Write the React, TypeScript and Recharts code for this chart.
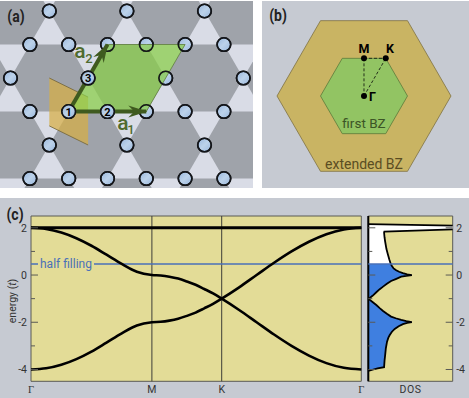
import type { CSSProperties, ReactNode } from "react";
import {
  Area,
  ComposedChart,
  Line,
  ReferenceArea,
  ReferenceLine,
  Scatter,
  XAxis,
  YAxis,
} from "recharts";

// (a) kagome lattice, columns are half lattice spacings, rows are atom rows
const latticeSites: [number, number][] = [
  [2, 0], [6, 0], [10, 0],
  [1, 1], [3, 1], [5, 1], [7, 1], [9, 1], [11, 1],
  [0, 2], [4, 2], [8, 2], [12, 2],
  [1, 3], [3, 3], [5, 3], [7, 3], [9, 3], [11, 3],
  [2, 4], [6, 4], [10, 4],
  [1, 5], [3, 5], [5, 5], [7, 5], [9, 5], [11, 5],
];
const numberedSites: [number, number, string][] = [
  [3, 3, "1"],
  [5, 3, "2"],
  [4, 2, "3"],
];
const upTriangleApexes: [number, number][] = [
  [2, 0], [6, 0], [10, 0],
  [0, 2], [4, 2], [8, 2], [12, 2],
  [2, 4], [6, 4], [10, 4],
];
const downTriangleApexes: [number, number][] = [
  [2, 0], [6, 0], [10, 0],
  [0, 2], [4, 2], [8, 2], [12, 2],
  [2, 4], [6, 4], [10, 4],
  [0, 6], [4, 6], [8, 6], [12, 6],
];
const unitCell = [
  { x: 3, span: [3, 3] },
  { x: 5, span: [1, 3] },
  { x: 7, span: [1, 3] },
  { x: 9, span: [1, 1] },
];
const wignerCell = [
  { x: 2, span: [2, 3.43] },
  { x: 4, span: [2.57, 4] },
];
const a1Vector = [{ x: 3, y: 3 }, { x: 7, y: 3 }];
const a2Vector = [{ x: 3, y: 3 }, { x: 5, y: 1 }];

// (b) Brillouin zones
const extendedBZ = [
  { x: -2, span: [0, 0] },
  { x: -1, span: [-1.732, 1.732] },
  { x: 1, span: [-1.732, 1.732] },
  { x: 2, span: [0, 0] },
];
const firstBZ = [
  { x: -1, span: [0, 0] },
  { x: -0.5, span: [-0.866, 0.866] },
  { x: 0.5, span: [-0.866, 0.866] },
  { x: 1, span: [0, 0] },
];
const kPathMGamma = [{ x: 0, y: 0.866 }, { x: 0, y: 0 }];
const kPathGammaK = [{ x: 0, y: 0 }, { x: 0.5, y: 0.866 }];
const kPathMK = [{ x: 0, y: 0.866 }, { x: 0.5, y: 0.866 }];
const kPoints = [
  { x: 0, y: 0 },
  { x: 0, y: 0.866 },
  { x: 0.5, y: 0.866 },
];

// (c) band structure along the path
const pathPositions = [0, 0.866, 1.366, 2.366];
const pathLabels = ["Γ", "M", "K", "Γ"];
const energyTicks = [2, 1, 0, -1, -2, -3, -4];
const halfFilling = 0.47;

const bandX = [
  0, 0.108, 0.217, 0.325, 0.433, 0.541, 0.65, 0.758, 0.866,
  0.929, 0.991, 1.054, 1.116, 1.179, 1.241, 1.304, 1.366,
  1.491, 1.616, 1.741, 1.866, 1.991, 2.116, 2.241, 2.366,
];
// the two dispersive bands cross at K
const bandFromTop = [
  2, 1.95, 1.8, 1.56, 1.24, 0.86, 0.47, 0.14, 0,
  -0.02, -0.07, -0.15, -0.27, -0.41, -0.59, -0.78, -1,
  -1.48, -2, -2.52, -3, -3.41, -3.73, -3.93, -4,
];
const bandFromBottom = [
  -4, -3.95, -3.8, -3.56, -3.24, -2.86, -2.47, -2.14, -2,
  -1.98, -1.93, -1.85, -1.73, -1.59, -1.41, -1.22, -1,
  -0.52, 0, 0.52, 1, 1.41, 1.73, 1.93, 2,
];
const flatBand = bandX.map(() => 2);
const bandData = bandX.map((x, i) => ({
  x,
  upper: bandFromTop[i],
  lower: bandFromBottom[i],
  flat: flatBand[i],
}));

// density of states, filled part and empty part
const filledEnergy = [
  -4.06, -4, -3.95, -3.9, -3.6, -3.38, -3.1, -2.82, -2.65, -2.54, -2.4,
  -2.28, -2.17, -2.08, -2.03, -1.99, -1.95, -1.9, -1.83, -1.76, -1.64,
  -1.52, -1.4, -1.27, -1.14, -1.01, -0.88, -0.73, -0.6, -0.49, -0.37,
  -0.25, -0.17, -0.07, -0.04, 0, 0.03, 0.085, 0.14, 0.2, 0.28, 0.38, 0.47,
];
const filledDos = [
  0, 0.06, 0.11, 0.187, 0.193, 0.2, 0.208, 0.222, 0.238, 0.254, 0.28,
  0.313, 0.36, 0.41, 0.46, 0.516, 0.45, 0.39, 0.325, 0.27, 0.22,
  0.175, 0.135, 0.095, 0.05, 0.004, 0.05, 0.095, 0.135, 0.175, 0.22,
  0.27, 0.325, 0.39, 0.45, 0.516, 0.46, 0.41, 0.365, 0.33, 0.3, 0.28, 0.266,
];
const emptyEnergy = [0.47, 0.65, 0.85, 1.1, 1.41, 1.6, 1.8, 1.84, 1.945, 2.085, 2.16];
const emptyDos = [0.266, 0.25, 0.234, 0.215, 0.2, 0.192, 0.187, 0.19, 1.1, 1.1, 0];
const filledData = filledEnergy.map((e, i) => ({ e, dos: filledDos[i] }));
const emptyData = emptyEnergy.map((e, i) => ({ e, dos: emptyDos[i] }));

const PANEL = "#c6cad2";
const DARK_TILE = "#9fa3aa";
const LIGHT_TILE = "#d9dce6";
const PLOT_BG = "#e3dc97";
const FRAME = "#5a5a55";
const BLUE = "#4a71b8";
const ARROW = "#3f5a1f";
const FONT = "Roboto, sans-serif";

function upTriangle([c, r]: [number, number]) {
  return [
    { x: c - 1, span: [r + 1, r + 1] },
    { x: c, span: [r, r + 1] },
    { x: c + 1, span: [r + 1, r + 1] },
  ];
}

function downTriangle([c, r]: [number, number]) {
  return [
    { x: c - 1, span: [r - 1, r - 1] },
    { x: c, span: [r - 1, r] },
    { x: c + 1, span: [r - 1, r - 1] },
  ];
}

function Note({
  x,
  y,
  size = 11,
  color = "#222",
  weight = 400,
  squeeze = 1,
  style,
  children,
}: {
  x: number;
  y: number;
  size?: number;
  color?: string;
  weight?: number;
  squeeze?: number;
  style?: CSSProperties;
  children: ReactNode;
}) {
  return (
    <span
      style={{
        position: "absolute",
        left: x,
        top: y,
        transform: `translate(-50%, -50%) scaleX(${squeeze})`,
        fontFamily: FONT,
        fontSize: size,
        fontWeight: weight,
        color,
        lineHeight: 1,
        whiteSpace: "nowrap",
        ...style,
      }}
    >
      {children}
    </span>
  );
}

function Atom(props: any) {
  return (
    <circle
      cx={props.cx}
      cy={props.cy}
      r={6.8}
      fill="url(#atomFill)"
      stroke="#14161a"
      strokeWidth={1.6}
    />
  );
}

function AtomOutline(props: any) {
  return (
    <circle
      cx={props.cx}
      cy={props.cy}
      r={6.8}
      fill="none"
      stroke="#14161a"
      strokeWidth={1.6}
    />
  );
}

function ArrowHead({ angle, ...props }: any) {
  if (props.index !== 1) return <g key={props.index} />;
  return (
    <polygon
      key={props.index}
      points="1,0 -18,-6 -12,0 -18,6"
      fill={ARROW}
      transform={`translate(${props.cx} ${props.cy}) rotate(${angle})`}
    />
  );
}

// the three lattice layers share these hidden axes
function LatticeLayer({ children }: { children: ReactNode }) {
  return (
    <div style={{ position: "absolute", left: 0, top: 0 }}>
      <ComposedChart
        width={253}
        height={187}
        margin={{ top: 0, right: 0, bottom: 0, left: 0 }}
      >
        <XAxis
          dataKey="x"
          type="number"
          domain={[-0.541, 12.5]}
          allowDataOverflow
          hide
        />
        <YAxis
          dataKey="y"
          type="number"
          domain={[-0.2985, 5.283]}
          reversed
          allowDataOverflow
          hide
        />
        {children}
      </ComposedChart>
    </div>
  );
}

function LatticePanel() {
  const sites = latticeSites.map(([x, y]) => ({ x, y }));
  const numbered = numberedSites.map(([x, y]) => ({ x, y }));
  return (
    <>
      <svg width={0} height={0} style={{ position: "absolute" }}>
        <defs>
          <linearGradient id="atomFill" x1="0" y1="0" x2="1" y2="1">
            <stop offset="0%" stopColor="#98b6dc" />
            <stop offset="50%" stopColor="#bcd2ea" />
            <stop offset="100%" stopColor="#98b6dc" />
          </linearGradient>
        </defs>
      </svg>
      <LatticeLayer>
        {upTriangleApexes.map((apex) => (
          <Area
            key={`up-${apex}`}
            data={upTriangle(apex)}
            dataKey="span"
            type="linear"
            fill={LIGHT_TILE}
            fillOpacity={1}
            stroke="none"
            isAnimationActive={false}
          />
        ))}
        {downTriangleApexes.map((apex) => (
          <Area
            key={`down-${apex}`}
            data={downTriangle(apex)}
            dataKey="span"
            type="linear"
            fill={LIGHT_TILE}
            fillOpacity={1}
            stroke="none"
            isAnimationActive={false}
          />
        ))}
        <Scatter data={sites} shape={<Atom />} isAnimationActive={false} />
      </LatticeLayer>
      <LatticeLayer>
        <Area
          data={wignerCell}
          dataKey="span"
          type="linear"
          fill="#d7ae45"
          fillOpacity={0.72}
          stroke="#6f6238"
          strokeWidth={0.8}
          isAnimationActive={false}
        />
        <Area
          data={unitCell}
          dataKey="span"
          type="linear"
          fill="#89ce49"
          fillOpacity={0.73}
          stroke="#5c7a3a"
          strokeWidth={0.8}
          isAnimationActive={false}
        />
      </LatticeLayer>
      <LatticeLayer>
        <Scatter data={sites} shape={<AtomOutline />} isAnimationActive={false} />
      </LatticeLayer>
      <LatticeLayer>
        <Line
          data={a1Vector}
          dataKey="y"
          stroke={ARROW}
          strokeWidth={4}
          dot={<ArrowHead angle={0} />}
          isAnimationActive={false}
        />
        <Line
          data={a2Vector}
          dataKey="y"
          stroke={ARROW}
          strokeWidth={4}
          dot={<ArrowHead angle={-60} />}
          isAnimationActive={false}
        />
        <Scatter data={numbered} shape={<Atom />} isAnimationActive={false} />
      </LatticeLayer>
    </>
  );
}

function ZonePanel() {
  return (
    <ComposedChart
      width={207}
      height={187}
      margin={{ top: 0, right: 0, bottom: 0, left: 0 }}
    >
      <XAxis dataKey="x" type="number" domain={[-2.345, 2.414]} hide />
      <YAxis dataKey="y" type="number" domain={[-2.115, 2.184]} hide />
      <Area
        data={extendedBZ}
        dataKey="span"
        type="linear"
        fill="#c9b463"
        fillOpacity={1}
        stroke="#7f7140"
        strokeWidth={0.8}
        isAnimationActive={false}
      />
      <Area
        data={firstBZ}
        dataKey="span"
        type="linear"
        fill="#92c463"
        fillOpacity={1}
        stroke="#5c7a3a"
        strokeWidth={0.8}
        isAnimationActive={false}
      />
      {[kPathMGamma, kPathGammaK, kPathMK].map((segment, i) => (
        <Line
          key={i}
          data={segment}
          dataKey="y"
          stroke="#23301a"
          strokeWidth={1}
          strokeDasharray="3 2"
          dot={false}
          isAnimationActive={false}
        />
      ))}
      <Scatter
        data={kPoints}
        shape={(p: any) => <circle cx={p.cx} cy={p.cy} r={3} fill="#000" />}
        isAnimationActive={false}
      />
    </ComposedChart>
  );
}

function energyTick(side: "inLeft" | "inRight", label: "left" | "right" | null) {
  return (props: any) => {
    const { x, y, payload } = props;
    const major = payload.value % 2 === 0;
    const len = major ? 7 : 4;
    const dir = side === "inLeft" ? 1 : -1;
    return (
      <g>
        <line x1={x} x2={x + dir * len} y1={y} y2={y} stroke={FRAME} strokeWidth={1} />
        {label && major && (
          <text
            x={label === "left" ? x - 4 : x + 3.5}
            y={y + 4}
            fontFamily={FONT}
            fontSize={10.5}
            fill="#333"
            textAnchor={label === "left" ? "end" : "start"}
          >
            {payload.value}
          </text>
        )}
      </g>
    );
  };
}

function PathTick(props: any) {
  const { x, y, payload } = props;
  const label = pathLabels[pathPositions.indexOf(payload.value)];
  return (
    <text
      x={x}
      y={y + 11.5}
      fontFamily={label === "Γ" ? "Liberation Serif, serif" : FONT}
      fontSize={10.5}
      fill="#333"
      textAnchor="middle"
    >
      {label}
    </text>
  );
}

function BandChart() {
  return (
    <ComposedChart
      width={365}
      height={200}
      data={bandData}
      margin={{ top: 18, right: 3.7, bottom: 0, left: 0 }}
    >
      <XAxis
        dataKey="x"
        type="number"
        domain={[0, 2.366]}
        ticks={pathPositions}
        interval={0}
        height={16.7}
        axisLine={false}
        tickLine={false}
        tickSize={0}
        tickMargin={0}
        tick={<PathTick />}
      />
      <YAxis
        yAxisId="left"
        type="number"
        domain={[-4.5, 2.5]}
        ticks={energyTicks}
        interval={0}
        width={31}
        axisLine={false}
        tickLine={false}
        tickSize={0}
        tickMargin={0}
        tick={energyTick("inLeft", "left")}
      />
      <YAxis
        yAxisId="right"
        orientation="right"
        type="number"
        domain={[-4.5, 2.5]}
        ticks={energyTicks}
        interval={0}
        width={0}
        axisLine={false}
        tickLine={false}
        tickSize={0}
        tickMargin={0}
        tick={energyTick("inRight", null)}
      />
      <ReferenceArea
        yAxisId="left"
        x1={0}
        x2={2.366}
        y1={-4.5}
        y2={2.5}
        fill={PLOT_BG}
        fillOpacity={1}
        stroke={FRAME}
        strokeWidth={1}
      />
      {pathPositions.slice(1, 3).map((x) => (
        <ReferenceLine key={x} yAxisId="left" x={x} stroke="#3e3e38" strokeWidth={1} />
      ))}
      <ReferenceLine yAxisId="left" y={halfFilling} stroke={BLUE} strokeWidth={1.5} />
      <Line yAxisId="right" dataKey="flat" type="linear" stroke="#000" strokeWidth={3} dot={false} isAnimationActive={false} />
      <Line yAxisId="left" dataKey="upper" type="monotone" stroke="#000" strokeWidth={2.6} dot={false} isAnimationActive={false} />
      <Line yAxisId="left" dataKey="lower" type="monotone" stroke="#000" strokeWidth={2.6} dot={false} isAnimationActive={false} />
    </ComposedChart>
  );
}

function DosChart() {
  return (
    <ComposedChart
      width={109}
      height={200}
      layout="vertical"
      margin={{ top: 18, right: 0, bottom: 0, left: 0 }}
    >
      <XAxis
        type="number"
        dataKey="dos"
        domain={[0, 1]}
        allowDataOverflow
        ticks={[0.5]}
        height={16.7}
        axisLine={false}
        tickLine={false}
        tickSize={0}
        tickMargin={0}
        tick={(p: any) => (
          <text x={p.x} y={p.y + 11.5} fontFamily={FONT} fontSize={10.5} letterSpacing={0.5} fill="#333" textAnchor="middle">
            DOS
          </text>
        )}
      />
      <YAxis
        yAxisId="left"
        dataKey="e"
        type="number"
        domain={[-4.5, 2.5]}
        reversed
        ticks={energyTicks}
        interval={0}
        width={8.3}
        axisLine={false}
        tickLine={false}
        tickSize={0}
        tickMargin={0}
        tick={energyTick("inLeft", null)}
      />
      <YAxis
        yAxisId="right"
        dataKey="e"
        orientation="right"
        type="number"
        domain={[-4.5, 2.5]}
        reversed
        ticks={energyTicks}
        interval={0}
        width={16.3}
        axisLine={false}
        tickLine={false}
        tickSize={0}
        tickMargin={0}
        tick={energyTick("inRight", "right")}
      />
      <ReferenceArea
        yAxisId="left"
        x1={0}
        x2={1}
        y1={-4.5}
        y2={2.5}
        fill={PLOT_BG}
        fillOpacity={1}
        stroke={FRAME}
        strokeWidth={1}
      />
      <Area
        yAxisId="left"
        data={filledData}
        dataKey="dos"
        type="linear"
        fill="#3f7fe0"
        fillOpacity={1}
        stroke="#000"
        strokeWidth={1.8}
        isAnimationActive={false}
      />
      <Area
        yAxisId="right"
        data={emptyData}
        dataKey="dos"
        type="linear"
        fill="#fff"
        fillOpacity={1}
        stroke="#000"
        strokeWidth={1.8}
        isAnimationActive={false}
      />
      <ReferenceLine yAxisId="left" x={0} stroke="#000" strokeWidth={2} />
      <ReferenceLine yAxisId="left" y={halfFilling} stroke={BLUE} strokeWidth={1.5} />
    </ComposedChart>
  );
}

export default function App() {
  const box = (left: number, top: number, width: number, height: number, background: string): CSSProperties => ({
    position: "absolute",
    left,
    top,
    width,
    height,
    background,
  });
  return (
    <div style={{ position: "absolute", left: 0, top: 0, width: 469, height: 398, background: "#fff", overflow: "hidden" }}>
      <div style={box(0, 1, 253, 187, DARK_TILE)}>
        <LatticePanel />
      </div>
      <div style={box(262, 1, 207, 187, PANEL)}>
        <ZonePanel />
      </div>
      <div style={box(0, 198, 469, 200, PANEL)}>
        <div style={{ position: "absolute", left: 0, top: 0 }}>
          <BandChart />
        </div>
        <div style={{ position: "absolute", left: 360, top: 0 }}>
          <DosChart />
        </div>
      </div>

      <Note x={15.5} y={17} size={16.5} weight={700} squeeze={0.85}>(a)</Note>
      {numberedSites.map(([c, r, label]) => (
        <Note key={label} x={10.5 + 19.4 * c} y={11 + 33.5 * r} size={11} weight={700} color="#000">
          {label}
        </Note>
      ))}
      <Note x={80} y={51} size={21} weight={500} color="#4f6b2f">a</Note>
      <Note x={89} y={58} size={13} weight={500} color="#4f6b2f">2</Note>
      <Note x={123} y={123} size={21} weight={500} color="#4f6b2f">a</Note>
      <Note x={131} y={129} size={13} weight={500} color="#4f6b2f">1</Note>

      <Note x={278} y={16} size={16.5} weight={700} squeeze={0.85}>(b)</Note>
      <Note x={364} y={49} size={12.5} weight={700} color="#000">M</Note>
      <Note x={390} y={49} size={12.5} weight={700} color="#000">K</Note>
      <Note x={372.5} y={97} size={12.5} weight={700} color="#000">Γ</Note>
      <Note x={364} y={123.5} size={13.5} color="#3c5526">first BZ</Note>
      <Note x={364} y={163.5} size={14} color="#5a4d22">extended BZ</Note>

      <Note x={15} y={215} size={16.5} weight={700} squeeze={0.85}>(c)</Note>
      <Note x={66} y={264} size={12} color={BLUE} style={{ background: PLOT_BG, padding: "0 2px" }}>
        half filling
      </Note>
      <Note x={13} y={301} size={10.5} color="#333" style={{ transform: "translate(-50%, -50%) rotate(-90deg)" }}>
        energy (<i>t</i>)
      </Note>
    </div>
  );
}
